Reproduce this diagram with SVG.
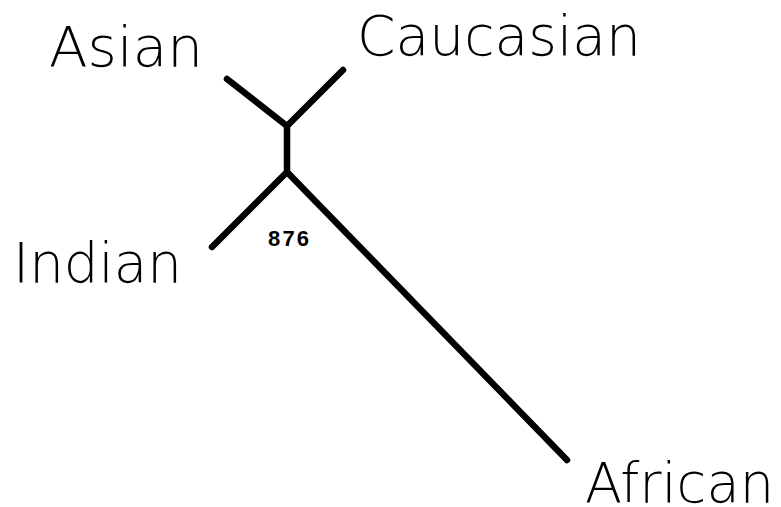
<svg xmlns="http://www.w3.org/2000/svg" width="781" height="507" viewBox="0 0 781 507">
<style>
.edge{stroke:#000;stroke-width:6.5;stroke-linecap:round;stroke-linejoin:round;fill:none}
.leaf{font-family:"DejaVu Sans","Liberation Sans",Arial,sans-serif;font-weight:200;font-size:56px;fill:#000}
.num{font-family:"Liberation Sans",Arial,sans-serif;font-size:22px;font-weight:bold;fill:#000}
</style>
<rect width="781" height="507" fill="#fff"/>
<g id="edges">
<path class="edge" d="M227,79 L287,126 L343,70"/>
<path class="edge" d="M287,126 L287,172"/>
<path class="edge" d="M212,247 L287,172 L567,460"/>
</g>
<g id="asian"><text class="leaf" x="49" y="66" textLength="154" lengthAdjust="spacingAndGlyphs">Asian</text></g>
<g id="caucasian"><text class="leaf" x="357" y="55" textLength="284" lengthAdjust="spacingAndGlyphs">Caucasian</text></g>
<g id="indian"><text class="leaf" x="13" y="282" textLength="169" lengthAdjust="spacingAndGlyphs">Indian</text></g>
<g id="african"><text class="leaf" x="585" y="502" textLength="189" lengthAdjust="spacingAndGlyphs">African</text></g>
<g id="node876"><text class="num" x="268" y="246" textLength="41" lengthAdjust="spacing">876</text></g>
</svg>
